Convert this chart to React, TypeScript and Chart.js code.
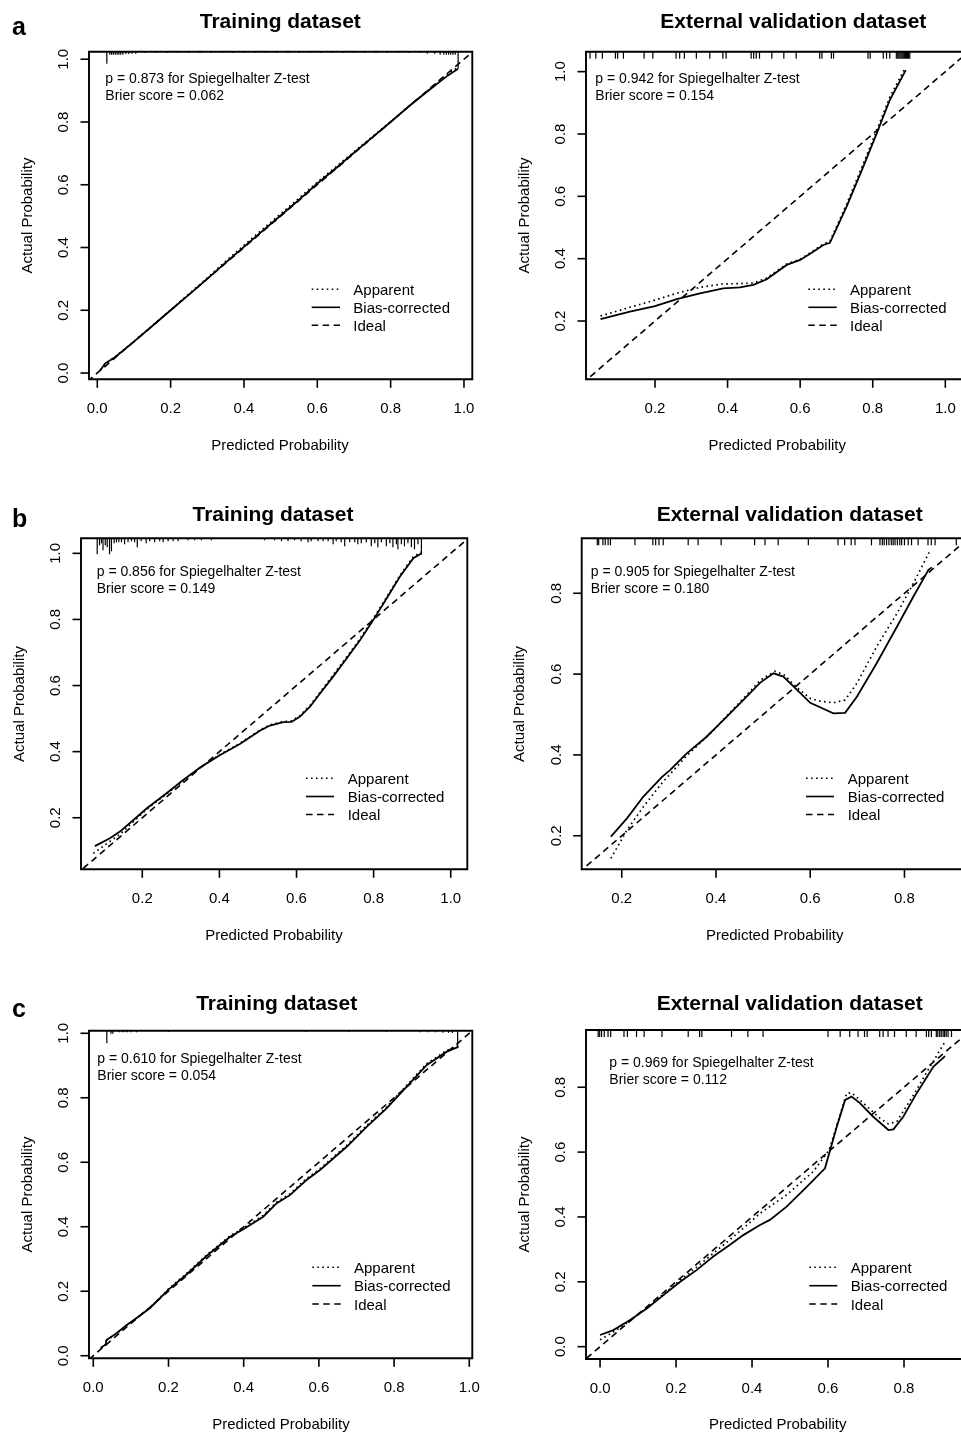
import React, { useEffect, useRef } from "react";
import { Chart, registerables } from "chart.js";

Chart.register(...registerables);

const FONT = '"Liberation Sans", Arial, Helvetica, sans-serif';
const INK = "#000";

// ---------------- tick labels ----------------
const TICKS_0_TO_1 = [0, 0.2, 0.4, 0.6, 0.8, 1.0];
const TICKS_02_TO_1 = [0.2, 0.4, 0.6, 0.8, 1.0];
const TICKS_02_TO_08 = [0.2, 0.4, 0.6, 0.8];
const TICKS_0_TO_08 = [0, 0.2, 0.4, 0.6, 0.8];

const LEGEND_LABELS = ["Apparent", "Bias-corrected", "Ideal"];
const IDEAL_LINE = [-0.3, 1.3];

// ---------------- panel a : training ----------------
const A_TRAIN_BIAS_X = [0.008, 0.021, 0.05, 0.1, 0.15, 0.2, 0.25, 0.3, 0.35, 0.4, 0.45, 0.5, 0.55, 0.6, 0.65, 0.7, 0.75, 0.8, 0.85, 0.9, 0.95, 0.984];
const A_TRAIN_BIAS_Y = [0.008, 0.030, 0.052, 0.100, 0.150, 0.200, 0.250, 0.300, 0.352, 0.402, 0.452, 0.502, 0.552, 0.604, 0.652, 0.702, 0.751, 0.800, 0.850, 0.897, 0.943, 0.970];
const A_TRAIN_APP_X = [0.008, 0.021, 0.05, 0.1, 0.15, 0.2, 0.25, 0.3, 0.35, 0.4, 0.45, 0.5, 0.55, 0.6, 0.65, 0.7, 0.75, 0.8, 0.85, 0.9, 0.95, 0.984];
const A_TRAIN_APP_Y = [0.010, 0.028, 0.053, 0.101, 0.151, 0.201, 0.252, 0.303, 0.356, 0.407, 0.457, 0.507, 0.557, 0.608, 0.656, 0.705, 0.753, 0.801, 0.851, 0.899, 0.946, 0.975];
const A_TRAIN_RUG_X = [0.026, 0.034, 0.039, 0.044, 0.049, 0.054, 0.059, 0.064, 0.07, 0.078, 0.086, 0.095, 0.105,
  0.13, 0.16, 0.19, 0.22, 0.25, 0.28, 0.31, 0.34, 0.37, 0.40, 0.43, 0.46, 0.49, 0.52, 0.55, 0.58, 0.61, 0.64, 0.67, 0.70,
  0.73, 0.76, 0.79, 0.82, 0.85, 0.88, 0.90, 0.92, 0.935, 0.945, 0.952, 0.958, 0.964, 0.970, 0.976, 0.984];
const A_TRAIN_RUG_N = [6, 1.5, 1.5, 1.5, 1.5, 1.5, 1.5, 1.5, 1.5, 1.2, 1.2, 1, 1,
  0.7, 0.7, 0.7, 0.7, 0.7, 0.7, 0.7, 0.7, 0.7, 0.7, 0.7, 0.7, 0.7, 0.7, 0.7, 0.7, 0.7, 0.7, 0.7, 0.7,
  0.7, 0.7, 0.7, 0.7, 0.7, 0.7, 1, 1, 1.5, 1.5, 1.5, 1.5, 1.5, 1.5, 1.5, 8.5];

// ---------------- panel a : external validation ----------------
const A_EXT_BIAS_X = [0.05, 0.131, 0.2, 0.26, 0.324, 0.388, 0.434, 0.471, 0.508, 0.563, 0.6, 0.636, 0.664, 0.682, 0.728, 0.774, 0.811, 0.847, 0.891];
const A_EXT_BIAS_Y = [0.206, 0.230, 0.248, 0.270, 0.289, 0.305, 0.308, 0.316, 0.334, 0.380, 0.396, 0.422, 0.444, 0.451, 0.567, 0.695, 0.802, 0.909, 1.005];
const A_EXT_APP_X = [0.05, 0.131, 0.2, 0.26, 0.324, 0.388, 0.434, 0.471, 0.508, 0.563, 0.6, 0.636, 0.664, 0.682, 0.728, 0.774, 0.811, 0.847, 0.889];
const A_EXT_APP_Y = [0.216, 0.244, 0.267, 0.289, 0.308, 0.319, 0.320, 0.322, 0.338, 0.383, 0.398, 0.425, 0.447, 0.456, 0.575, 0.705, 0.812, 0.918, 1.011];
const A_EXT_RUG_X = [0.021, 0.037, 0.055, 0.091, 0.097, 0.113, 0.170, 0.194, 0.258, 0.268, 0.281, 0.314, 0.351, 0.387, 0.396,
  0.465, 0.472, 0.479, 0.488, 0.522, 0.555, 0.589, 0.654, 0.660, 0.686, 0.692, 0.787, 0.793, 0.829, 0.838, 0.847,
  0.865, 0.869, 0.872, 0.875, 0.878, 0.881, 0.884, 0.887, 0.890, 0.893, 0.896, 0.899, 0.902];
const A_EXT_RUG_N = A_EXT_RUG_X.map(() => 1);

// ---------------- panel b : training ----------------
const B_TRAIN_BIAS_X = [0.077, 0.116, 0.142, 0.177, 0.211, 0.263, 0.306, 0.350, 0.401, 0.453, 0.505, 0.531, 0.566, 0.587, 0.609, 0.635, 0.661, 0.695, 0.730, 0.765, 0.799, 0.834, 0.868, 0.903, 0.925];
const B_TRAIN_BIAS_Y = [0.114, 0.138, 0.158, 0.193, 0.228, 0.274, 0.314, 0.352, 0.389, 0.423, 0.463, 0.479, 0.489, 0.490, 0.506, 0.536, 0.576, 0.627, 0.682, 0.738, 0.798, 0.864, 0.929, 0.985, 1.000];
const B_TRAIN_APP_X = [0.073, 0.100, 0.142, 0.177, 0.211, 0.263, 0.306, 0.350, 0.401, 0.453, 0.505, 0.531, 0.566, 0.587, 0.609, 0.635, 0.661, 0.695, 0.730, 0.765, 0.799, 0.834, 0.868, 0.903, 0.925];
const B_TRAIN_APP_Y = [0.092, 0.115, 0.150, 0.188, 0.225, 0.272, 0.312, 0.352, 0.391, 0.425, 0.465, 0.481, 0.491, 0.493, 0.509, 0.540, 0.580, 0.632, 0.686, 0.742, 0.803, 0.868, 0.933, 0.990, 1.005];
const B_TRAIN_RUG_X = [
  0.083, 0.089, 0.094, 0.098, 0.104, 0.109, 0.115, 0.120, 0.127, 0.133,
  0.139, 0.146, 0.154, 0.163, 0.172, 0.180, 0.187, 0.197, 0.210, 0.219,
  0.232, 0.245, 0.254, 0.267, 0.280, 0.293, 0.319, 0.336, 0.353, 0.379,
  0.517, 0.543, 0.561, 0.578, 0.595, 0.612, 0.630, 0.638, 0.656, 0.669,
  0.682, 0.695, 0.703, 0.716, 0.725, 0.738, 0.751, 0.759, 0.768, 0.781,
  0.794, 0.803, 0.811, 0.820, 0.833, 0.842, 0.850, 0.859, 0.863, 0.872,
  0.880, 0.889, 0.898, 0.906, 0.915, 0.924];
const B_TRAIN_RUG_N = [
  16, 7, 5, 12, 7, 9, 16, 13, 5, 4,
  4, 4, 6, 4, 3, 4, 9, 3, 5, 3,
  4, 3, 4, 3, 3, 3, 2, 2, 2, 2,
  2, 2, 3, 3, 2, 3, 4, 3, 3, 3,
  3, 6, 3, 4, 8, 4, 4, 6, 5, 4,
  8, 5, 9, 4, 8, 5, 9, 6, 11, 6,
  8, 5, 9, 11, 6, 16];

// ---------------- panel b : external validation ----------------
const B_EXT_BIAS_X = [0.177, 0.211, 0.246, 0.285, 0.303, 0.338, 0.380, 0.423, 0.465, 0.494, 0.522, 0.543, 0.572, 0.600, 0.621, 0.649, 0.674, 0.699, 0.741, 0.784, 0.819, 0.851, 0.858];
const B_EXT_BIAS_Y = [0.198, 0.243, 0.297, 0.345, 0.363, 0.404, 0.445, 0.495, 0.544, 0.579, 0.602, 0.594, 0.561, 0.529, 0.518, 0.503, 0.504, 0.544, 0.627, 0.717, 0.792, 0.858, 0.864];
const B_EXT_APP_X = [0.177, 0.211, 0.246, 0.285, 0.338, 0.395, 0.423, 0.465, 0.494, 0.525, 0.545, 0.572, 0.600, 0.621, 0.649, 0.674, 0.699, 0.741, 0.784, 0.819, 0.855];
const B_EXT_APP_Y = [0.144, 0.214, 0.272, 0.330, 0.398, 0.461, 0.497, 0.548, 0.585, 0.607, 0.598, 0.566, 0.540, 0.533, 0.529, 0.536, 0.577, 0.668, 0.750, 0.825, 0.907];
const B_EXT_RUG_X = [0.148, 0.151, 0.160, 0.165, 0.171, 0.176, 0.228, 0.266, 0.272, 0.279, 0.288, 0.341, 0.362, 0.411,
  0.482, 0.504, 0.532, 0.596, 0.659, 0.673, 0.687, 0.695, 0.730, 0.748, 0.753, 0.757, 0.762, 0.767, 0.772, 0.776,
  0.780, 0.785, 0.790, 0.794, 0.800, 0.808, 0.815, 0.829, 0.850, 0.857, 0.865, 0.910];
const B_EXT_RUG_N = B_EXT_RUG_X.map(() => 1);

// ---------------- panel c : training ----------------
const C_TRAIN_BIAS_X = [0.02, 0.033, 0.035, 0.06, 0.089, 0.12, 0.151, 0.2, 0.248, 0.302, 0.364, 0.399, 0.452, 0.488, 0.523, 0.567, 0.603, 0.674, 0.727, 0.780, 0.833, 0.887, 0.940, 0.971];
const C_TRAIN_BIAS_Y = [0.025, 0.035, 0.049, 0.068, 0.095, 0.121, 0.148, 0.205, 0.252, 0.310, 0.369, 0.392, 0.431, 0.473, 0.498, 0.545, 0.576, 0.648, 0.710, 0.767, 0.834, 0.902, 0.943, 0.958];
const C_TRAIN_APP_X = [0.02, 0.033, 0.035, 0.06, 0.089, 0.12, 0.151, 0.2, 0.248, 0.302, 0.364, 0.399, 0.452, 0.488, 0.523, 0.567, 0.603, 0.674, 0.727, 0.780, 0.833, 0.887, 0.940, 0.971];
const C_TRAIN_APP_Y = [0.023, 0.034, 0.047, 0.067, 0.094, 0.121, 0.149, 0.207, 0.255, 0.313, 0.372, 0.396, 0.435, 0.477, 0.502, 0.549, 0.580, 0.652, 0.714, 0.771, 0.838, 0.906, 0.947, 0.962];
const C_TRAIN_RUG_X = [0.036, 0.047, 0.052, 0.07, 0.08, 0.09, 0.10, 0.115, 0.20, 0.566, 0.68, 0.78, 0.87, 0.89, 0.91, 0.93, 0.945, 0.955, 0.969];
const C_TRAIN_RUG_N = [6.3, 1.5, 1.5, 0.8, 0.8, 0.8, 0.8, 0.8, 0.6, 0.6, 0.6, 0.6, 0.8, 0.8, 0.8, 1, 1, 1.2, 8];

// ---------------- panel c : external validation ----------------
const C_EXT_BIAS_X = [0.0, 0.035, 0.079, 0.123, 0.167, 0.211, 0.254, 0.298, 0.342, 0.377, 0.421, 0.447, 0.491, 0.544, 0.592, 0.603, 0.623, 0.645, 0.662, 0.684, 0.719, 0.759, 0.772, 0.798, 0.833, 0.877, 0.908];
const C_EXT_BIAS_Y = [0.036, 0.051, 0.082, 0.118, 0.159, 0.200, 0.236, 0.278, 0.314, 0.344, 0.375, 0.391, 0.432, 0.493, 0.550, 0.596, 0.678, 0.761, 0.771, 0.751, 0.709, 0.668, 0.670, 0.709, 0.781, 0.863, 0.896];
const C_EXT_APP_X = [0.0, 0.035, 0.079, 0.123, 0.167, 0.211, 0.254, 0.298, 0.342, 0.377, 0.421, 0.491, 0.561, 0.603, 0.625, 0.649, 0.662, 0.693, 0.737, 0.759, 0.781, 0.825, 0.868, 0.908];
const C_EXT_APP_Y = [0.021, 0.045, 0.080, 0.120, 0.162, 0.205, 0.245, 0.288, 0.330, 0.365, 0.411, 0.468, 0.540, 0.606, 0.690, 0.781, 0.783, 0.751, 0.704, 0.687, 0.694, 0.776, 0.863, 0.940];
const C_EXT_RUG_X = [-0.005, -0.001, 0.004, 0.011, 0.021, 0.028, 0.063, 0.072, 0.096, 0.116, 0.163, 0.232, 0.262, 0.268,
  0.346, 0.389, 0.429, 0.600, 0.632, 0.657, 0.679, 0.696, 0.703, 0.736, 0.745, 0.758, 0.775, 0.806, 0.832, 0.859,
  0.865, 0.872, 0.885, 0.889, 0.894, 0.898, 0.903, 0.907, 0.911, 0.916, 0.925];
const C_EXT_RUG_N = C_EXT_RUG_X.map(() => 1);

// ---------------- layout (page pixel coordinates) ----------------
type Panel = {
  id: string;
  canvas: { l: number; t: number; w: number; h: number };
  box: { l: number; t: number; r: number; b: number };
  openRight: boolean;
  xRange: number[];
  yRange: number[];
  xTicks: number[];
  yTicks: number[];
  title: string;
  titleX: number;
  titleBase: number;
  letter: string;
  letterBase: number;
  notes: string[];
  noteX: number;
  noteBase: number[];
  legX0: number;
  legX1: number;
  legTextX: number;
  legY: number[];
  xTitleX: number;
  xTitleBase: number;
  yTitleBase: number;
  yTitleY: number;
  biasX: number[];
  biasY: number[];
  appX: number[];
  appY: number[];
  rugX: number[];
  rugN: number[];
  rugUnit: number;
};

const PANELS: Panel[] = [
  {
    id: "aL", canvas: { l: 0, t: 0, w: 480, h: 470 }, box: { l: 89, t: 51.7, r: 472.3, b: 379.3 }, openRight: false,
    xRange: [-0.0226, 1.0227], yRange: [-0.02, 1.024], xTicks: TICKS_0_TO_1, yTicks: TICKS_0_TO_1,
    title: "Training dataset", titleX: 280.3, titleBase: 28.3, letter: "a", letterBase: 35,
    notes: ["p = 0.873 for Spiegelhalter Z-test", "Brier score = 0.062"], noteX: 105.3, noteBase: [83.3, 100],
    legX0: 311.7, legX1: 340, legTextX: 353.3, legY: [289.3, 307.3, 325.3],
    xTitleX: 280, xTitleBase: 450, yTitleBase: 32.3, yTitleY: 215.5,
    biasX: A_TRAIN_BIAS_X, biasY: A_TRAIN_BIAS_Y, appX: A_TRAIN_APP_X, appY: A_TRAIN_APP_Y,
    rugX: A_TRAIN_RUG_X, rugN: A_TRAIN_RUG_N, rugUnit: 2,
  },
  {
    id: "aR", canvas: { l: 480, t: 0, w: 481, h: 470 }, box: { l: 586, t: 51.7, r: 961, b: 379.3 }, openRight: true,
    xRange: [0.0099, 1.0432], yRange: [0.013, 1.064], xTicks: TICKS_02_TO_1, yTicks: TICKS_02_TO_1,
    title: "External validation dataset", titleX: 793.3, titleBase: 28.3, letter: "", letterBase: 35,
    notes: ["p = 0.942 for Spiegelhalter Z-test", "Brier score = 0.154"], noteX: 595.3, noteBase: [83.3, 100],
    legX0: 808.3, legX1: 836.7, legTextX: 850, legY: [289.3, 307.3, 325.3],
    xTitleX: 777.2, xTitleBase: 450, yTitleBase: 529.3, yTitleY: 215.5,
    biasX: A_EXT_BIAS_X, biasY: A_EXT_BIAS_Y, appX: A_EXT_APP_X, appY: A_EXT_APP_Y,
    rugX: A_EXT_RUG_X, rugN: A_EXT_RUG_N, rugUnit: 7,
  },
  {
    id: "bL", canvas: { l: 0, t: 480, w: 480, h: 480 }, box: { l: 81, t: 538.3, r: 467.3, b: 869.3 }, openRight: false,
    xRange: [0.041, 1.043], yRange: [0.044, 1.0455], xTicks: TICKS_02_TO_1, yTicks: TICKS_02_TO_1,
    title: "Training dataset", titleX: 273, titleBase: 521, letter: "b", letterBase: 526.7,
    notes: ["p = 0.856 for Spiegelhalter Z-test", "Brier score = 0.149"], noteX: 96.7, noteBase: [576, 592.7],
    legX0: 306, legX1: 334, legTextX: 347.7, legY: [778.3, 796.5, 814.5],
    xTitleX: 274, xTitleBase: 940, yTitleBase: 24.3, yTitleY: 704,
    biasX: B_TRAIN_BIAS_X, biasY: B_TRAIN_BIAS_Y, appX: B_TRAIN_APP_X, appY: B_TRAIN_APP_Y,
    rugX: B_TRAIN_RUG_X, rugN: B_TRAIN_RUG_N, rugUnit: 1,
  },
  {
    id: "bR", canvas: { l: 480, t: 480, w: 481, h: 480 }, box: { l: 581.7, t: 538.3, r: 961, b: 869.3 }, openRight: true,
    xRange: [0.115, 0.92], yRange: [0.117, 0.936], xTicks: TICKS_02_TO_08, yTicks: TICKS_02_TO_08,
    title: "External validation dataset", titleX: 789.7, titleBase: 521, letter: "", letterBase: 526.7,
    notes: ["p = 0.905 for Spiegelhalter Z-test", "Brier score = 0.180"], noteX: 590.7, noteBase: [576, 592.7],
    legX0: 806, legX1: 834, legTextX: 847.7, legY: [778.3, 796.5, 814.5],
    xTitleX: 774.7, xTitleBase: 940, yTitleBase: 524.3, yTitleY: 704,
    biasX: B_EXT_BIAS_X, biasY: B_EXT_BIAS_Y, appX: B_EXT_APP_X, appY: B_EXT_APP_Y,
    rugX: B_EXT_RUG_X, rugN: B_EXT_RUG_N, rugUnit: 7,
  },
  {
    id: "cL", canvas: { l: 0, t: 965, w: 480, h: 468 }, box: { l: 89, t: 1030.7, r: 472.3, b: 1358.3 }, openRight: false,
    xRange: [-0.0114, 1.008], yRange: [-0.008, 1.008], xTicks: TICKS_0_TO_1, yTicks: TICKS_0_TO_1,
    title: "Training dataset", titleX: 276.7, titleBase: 1010, letter: "c", letterBase: 1016.7,
    notes: ["p = 0.610 for Spiegelhalter Z-test", "Brier score = 0.054"], noteX: 97.3, noteBase: [1063.3, 1080],
    legX0: 312.3, legX1: 340.7, legTextX: 354, legY: [1267.3, 1285.7, 1304],
    xTitleX: 281, xTitleBase: 1429.3, yTitleBase: 32.3, yTitleY: 1194.5,
    biasX: C_TRAIN_BIAS_X, biasY: C_TRAIN_BIAS_Y, appX: C_TRAIN_APP_X, appY: C_TRAIN_APP_Y,
    rugX: C_TRAIN_RUG_X, rugN: C_TRAIN_RUG_N, rugUnit: 2,
  },
  {
    id: "cR", canvas: { l: 480, t: 965, w: 481, h: 468 }, box: { l: 586, t: 1030, r: 961, b: 1359 }, openRight: true,
    xRange: [-0.037, 0.95], yRange: [-0.038, 0.9765], xTicks: TICKS_0_TO_08, yTicks: TICKS_0_TO_08,
    title: "External validation dataset", titleX: 789.7, titleBase: 1010, letter: "", letterBase: 1016.7,
    notes: ["p = 0.969 for Spiegelhalter Z-test", "Brier score = 0.112"], noteX: 609.3, noteBase: [1067.3, 1084],
    legX0: 809.3, legX1: 837.3, legTextX: 850.7, legY: [1267.3, 1285.7, 1304],
    xTitleX: 777.7, xTitleBase: 1429.3, yTitleBase: 529.3, yTitleY: 1194.5,
    biasX: C_EXT_BIAS_X, biasY: C_EXT_BIAS_Y, appX: C_EXT_APP_X, appY: C_EXT_APP_Y,
    rugX: C_EXT_RUG_X, rugN: C_EXT_RUG_N, rugUnit: 7,
  },
];

const DASH_APPARENT = [1.6, 3.4];
const DASH_IDEAL = [6.5, 4.5];
const LEGEND_DASHES = [DASH_APPARENT, [], DASH_IDEAL];
const TICK_LEN = 8.5;

const pts = (xs: number[], ys: number[]) => xs.map((x, i) => ({ x, y: ys[i] }));

function decorPlugin(p: Panel) {
  return {
    id: "rDecor" + p.id,
    afterDatasetsDraw(chart: any) {
      const ctx: CanvasRenderingContext2D = chart.ctx;
      const a = chart.chartArea;
      const xs = chart.scales.x;
      const ys = chart.scales.y;
      const X = (v: number) => v - p.canvas.l;
      const Y = (v: number) => v - p.canvas.t;
      const seg = (x0: number, y0: number, x1: number, y1: number) => {
        ctx.beginPath();
        ctx.moveTo(x0, y0);
        ctx.lineTo(x1, y1);
        ctx.stroke();
      };
      ctx.save();
      ctx.strokeStyle = INK;
      ctx.fillStyle = INK;
      ctx.setLineDash([]);
      ctx.lineCap = "butt";

      // rug of predicted values
      ctx.lineWidth = 1.2;
      p.rugX.forEach((v, i) => {
        const px = xs.getPixelForValue(v);
        if (px < a.left || px > a.right) return;
        seg(px, a.top, px, a.top + p.rugN[i] * p.rugUnit);
      });

      // frame
      ctx.lineWidth = 1.9;
      ctx.beginPath();
      if (p.openRight) {
        ctx.moveTo(a.right + 3, a.top);
        ctx.lineTo(a.left, a.top);
        ctx.lineTo(a.left, a.bottom);
        ctx.lineTo(a.right + 3, a.bottom);
      } else {
        ctx.rect(a.left, a.top, a.right - a.left, a.bottom - a.top);
      }
      ctx.stroke();

      // ticks
      ctx.lineWidth = 1.6;
      p.xTicks.forEach((v) => {
        const px = xs.getPixelForValue(v);
        seg(px, a.bottom, px, a.bottom + TICK_LEN);
      });
      p.yTicks.forEach((v) => {
        const py = ys.getPixelForValue(v);
        seg(a.left - TICK_LEN, py, a.left, py);
      });

      // tick labels
      ctx.font = `15px ${FONT}`;
      ctx.textAlign = "center";
      ctx.textBaseline = "alphabetic";
      p.xTicks.forEach((v) => ctx.fillText(v.toFixed(1), xs.getPixelForValue(v), a.bottom + 34));
      p.yTicks.forEach((v) => {
        ctx.save();
        ctx.translate(a.left - 21, ys.getPixelForValue(v));
        ctx.rotate(-Math.PI / 2);
        ctx.fillText(v.toFixed(1), 0, 0);
        ctx.restore();
      });

      // axis titles
      ctx.font = `15px ${FONT}`;
      ctx.fillText("Predicted Probability", X(p.xTitleX), Y(p.xTitleBase));
      ctx.save();
      ctx.translate(X(p.yTitleBase), Y(p.yTitleY));
      ctx.rotate(-Math.PI / 2);
      ctx.fillText("Actual Probability", 0, 0);
      ctx.restore();

      // title and panel letter
      ctx.font = `bold 21px ${FONT}`;
      ctx.fillText(p.title, X(p.titleX), Y(p.titleBase));
      if (p.letter) {
        ctx.font = `bold 25px ${FONT}`;
        ctx.textAlign = "left";
        ctx.fillText(p.letter, X(12), Y(p.letterBase));
      }

      // annotations
      ctx.font = `14px ${FONT}`;
      ctx.textAlign = "left";
      p.notes.forEach((t, i) => ctx.fillText(t, X(p.noteX), Y(p.noteBase[i])));

      // legend
      ctx.font = `15px ${FONT}`;
      LEGEND_LABELS.forEach((lab, i) => {
        const y = Y(p.legY[i]);
        ctx.lineWidth = 1.6;
        ctx.setLineDash(LEGEND_DASHES[i]);
        seg(X(p.legX0), y, X(p.legX1), y);
        ctx.setLineDash([]);
        ctx.fillText(lab, X(p.legTextX), y + 5.7);
      });
      ctx.restore();
    },
  };
}

function PanelChart({ p }: { p: Panel }) {
  const ref = useRef<HTMLCanvasElement | null>(null);
  useEffect(() => {
    const canvas = ref.current;
    if (!canvas) return;
    const common = { pointRadius: 0, pointHoverRadius: 0, fill: false, tension: 0, borderColor: INK, borderCapStyle: "butt" };
    const chart = new Chart(canvas, {
      type: "line",
      data: {
        datasets: [
          { ...common, label: "Ideal", data: pts(IDEAL_LINE, IDEAL_LINE), borderWidth: 1.6, borderDash: DASH_IDEAL },
          { ...common, label: "Apparent", data: pts(p.appX, p.appY), borderWidth: 1.7, borderDash: DASH_APPARENT },
          { ...common, label: "Bias-corrected", data: pts(p.biasX, p.biasY), borderWidth: 1.8 },
        ],
      } as any,
      options: {
        responsive: false,
        animation: false,
        devicePixelRatio: 1,
        events: [],
        layout: {
          padding: {
            left: p.box.l - p.canvas.l,
            top: p.box.t - p.canvas.t,
            right: p.canvas.l + p.canvas.w - p.box.r,
            bottom: p.canvas.t + p.canvas.h - p.box.b,
          },
        },
        scales: {
          x: { type: "linear", min: p.xRange[0], max: p.xRange[1], display: false },
          y: { type: "linear", min: p.yRange[0], max: p.yRange[1], display: false },
        },
        plugins: { legend: { display: false }, tooltip: { enabled: false }, title: { display: false } },
      } as any,
      plugins: [decorPlugin(p)],
    });
    return () => chart.destroy();
  }, [p]);
  return (
    <canvas
      ref={ref}
      width={p.canvas.w}
      height={p.canvas.h}
      style={{ position: "absolute", left: p.canvas.l, top: p.canvas.t, width: p.canvas.w, height: p.canvas.h }}
    />
  );
}

export default function App() {
  return (
    <div style={{ position: "absolute", left: 0, top: 0, width: 961, height: 1433, overflow: "hidden", background: "#fff" }}>
      {PANELS.map((p) => (
        <PanelChart key={p.id} p={p} />
      ))}
    </div>
  );
}
